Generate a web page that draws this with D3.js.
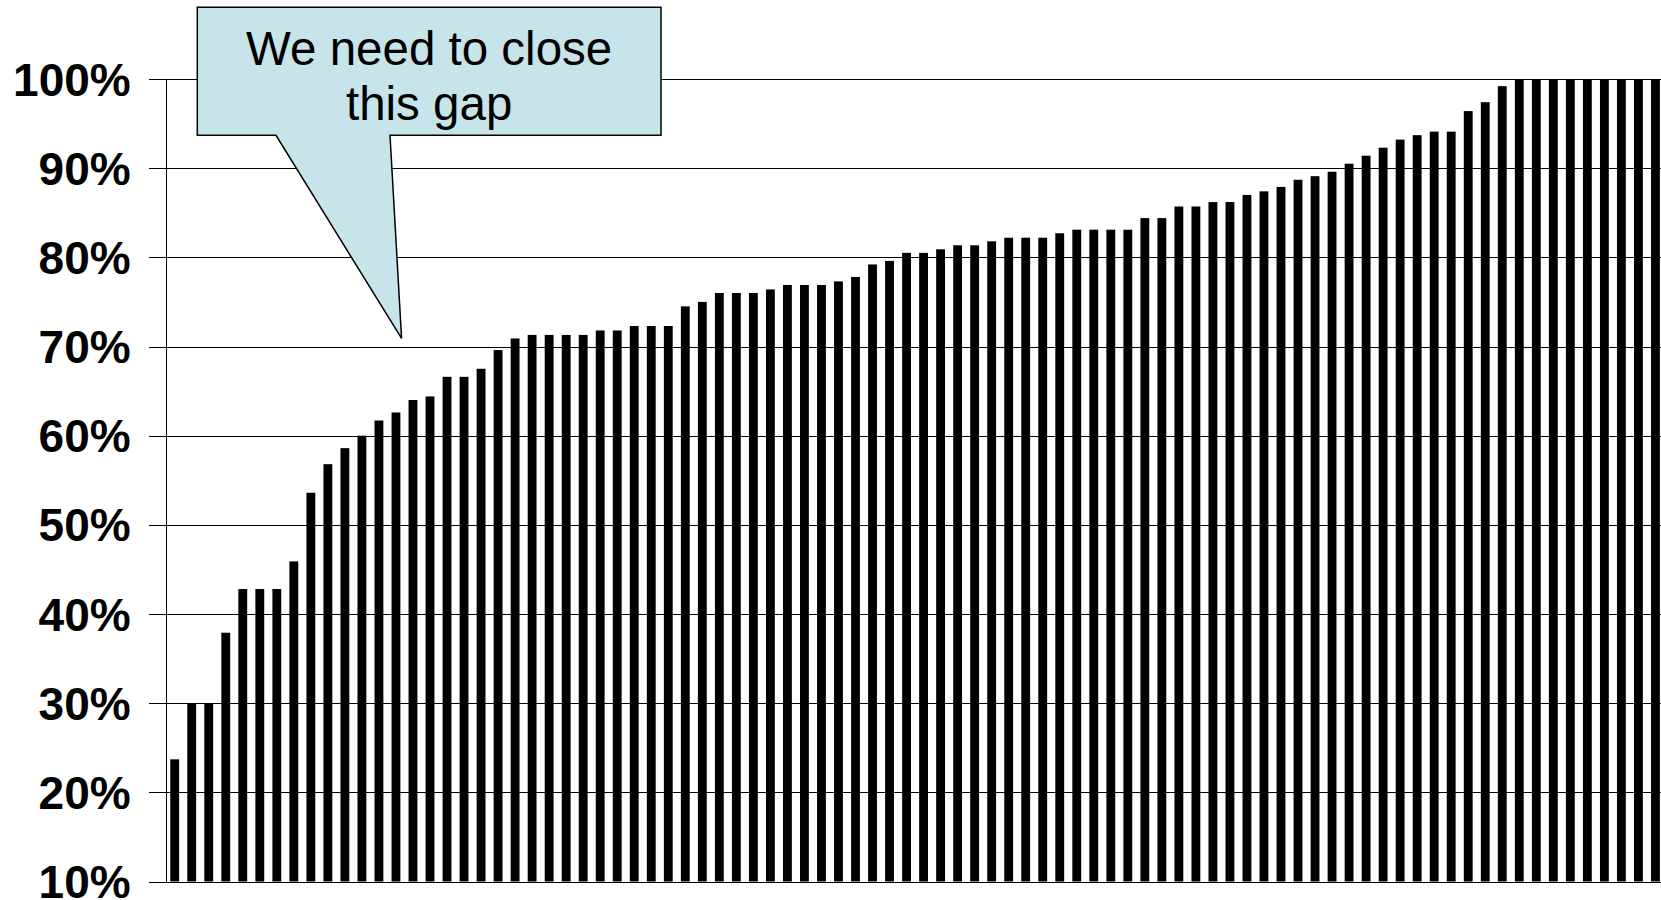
<!DOCTYPE html>
<html>
<head>
<meta charset="utf-8">
<script src="https://cdn.jsdelivr.net/npm/d3@7/dist/d3.min.js"></script>
<style>
  html, body { margin: 0; padding: 0; background: #fff; }
  svg { display: block; }
</style>
</head>
<body>
<svg id="chart" width="1661" height="900"></svg>
<script>
// ---- data ----
const values = [
  0.237, 0.300, 0.300, 0.379, 0.428, 0.428, 0.428, 0.459, 0.536, 0.568,
  0.586, 0.600, 0.617, 0.626, 0.640, 0.644, 0.666, 0.666, 0.675, 0.696,
  0.709, 0.713, 0.713, 0.713, 0.713, 0.718, 0.718, 0.723, 0.723, 0.723,
  0.745, 0.750, 0.760, 0.760, 0.760, 0.764, 0.769, 0.769, 0.769, 0.773,
  0.778, 0.792, 0.796, 0.805, 0.805, 0.809, 0.8135, 0.8135, 0.818, 0.822,
  0.822, 0.822, 0.827, 0.831, 0.831, 0.831, 0.831, 0.844, 0.844, 0.857,
  0.857, 0.862, 0.862, 0.870, 0.874, 0.879, 0.887, 0.891, 0.896, 0.905,
  0.914, 0.923, 0.932, 0.937, 0.941, 0.941, 0.964, 0.974, 0.992, 1.000,
  1.000, 1.000, 1.000, 1.000, 1.000, 1.000, 1.000, 1.000
];
const categories = values.map((_, i) => "item " + (i + 1));
const tickValues = [0.1, 0.2, 0.3, 0.4, 0.5, 0.6, 0.7, 0.8, 0.9, 1.0];
const tickLabels = ["10%", "20%", "30%", "40%", "50%", "60%", "70%", "80%", "90%", "100%"];
const calloutLines = ["We need to close", "this gap"];

// ---- layout ----
const W = 1661, H = 900;
const axisX = 166.7;
const yTop = 79, yBottom = 881.5;
const step = 17.02;
const padIn = 0.48, padOut = 0.21;

const svg = d3.select("#chart");

const y = d3.scaleLinear().domain([0.1, 1.0]).range([yBottom, yTop]);
const x = d3.scaleBand()
  .domain(categories)
  .range([axisX, axisX + step * (categories.length - padIn + 2 * padOut)])
  .paddingInner(padIn)
  .paddingOuter(padOut);

// gridlines (extend a little left of the axis, as ticks)
const grid = svg.append("g")
  .attr("transform", "translate(149,0)")
  .call(d3.axisRight(y).tickValues(tickValues).tickSize(W - 149).tickFormat(""));
grid.select(".domain").remove();
grid.selectAll("line")
  .attr("stroke", "#000")
  .attr("stroke-width", 1)
  .attr("shape-rendering", "crispEdges");

// y-axis labels
const yAxis = svg.append("g")
  .attr("transform", `translate(${axisX},0)`)
  .call(d3.axisLeft(y).tickValues(tickValues).tickSize(0).tickPadding(36)
    .tickFormat((d, i) => tickLabels[i]));
yAxis.select(".domain").remove();
yAxis.selectAll("text")
  .attr("font-family", "'Liberation Sans', Arial, sans-serif")
  .attr("font-weight", "bold")
  .attr("font-size", 46)
  .attr("fill", "#000")
  .attr("dy", "0.35em");

// vertical axis line
svg.append("line")
  .attr("x1", axisX).attr("x2", axisX)
  .attr("y1", y(1.0)).attr("y2", y(0.1))
  .attr("stroke", "#000").attr("stroke-width", 1)
  .attr("shape-rendering", "crispEdges");

// bars
svg.append("g").selectAll("rect")
  .data(values)
  .join("rect")
  .attr("x", (d, i) => x(categories[i]))
  .attr("width", x.bandwidth())
  .attr("y", d => y(d))
  .attr("height", d => y(0.1) - y(d))
  .attr("fill", "#000");

// ---- callout annotation ----
const box = { left: 197.3, right: 661, top: 7.3, bottom: 135.3 };
const tailBase = [276, 390];
const tip = [x(categories[13]) + x.bandwidth() / 2 + 0.33 * step, y(0.709)];
const path = d3.path();
path.moveTo(box.left, box.top);
path.lineTo(box.right, box.top);
path.lineTo(box.right, box.bottom);
path.lineTo(tailBase[1], box.bottom);
path.lineTo(tip[0], tip[1]);
path.lineTo(tailBase[0], box.bottom);
path.lineTo(box.left, box.bottom);
path.closePath();
svg.append("path")
  .attr("d", path.toString())
  .attr("fill", "#C6E4E9")
  .attr("stroke", "#000")
  .attr("stroke-width", 1.5)
  .attr("stroke-linejoin", "miter");

const cx = (box.left + box.right) / 2;
svg.append("g").selectAll("text")
  .data(calloutLines)
  .join("text")
  .attr("x", cx)
  .attr("y", (d, i) => 64.5 + i * 55.5)
  .attr("text-anchor", "middle")
  .attr("font-family", "'Liberation Sans', Arial, sans-serif")
  .attr("font-size", 47.5)
  .attr("fill", "#000")
  .text(d => d);
</script>
</body>
</html>
